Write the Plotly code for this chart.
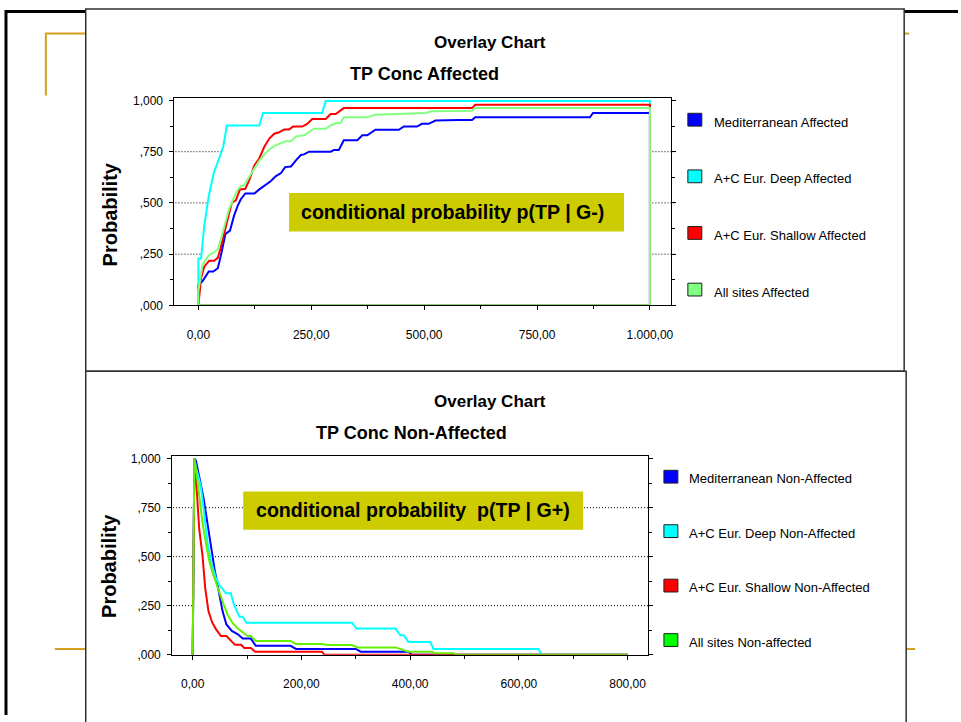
import plotly.graph_objects as go

# ---------------- data ----------------
names_top = ["Mediterranean Affected", "A+C Eur. Deep Affected",
             "A+C Eur. Shallow Affected", "All sites Affected"]
names_bot = ["Mediterranean Non-Affected", "A+C Eur. Deep Non-Affected",
             "A+C Eur. Shallow Non-Affected", "All sites Non-affected"]

# Chart 1 : TP Conc Affected (cumulative probability)
med_aff_x = [0, 0, 9, 23, 33, 43, 50, 60, 70, 79, 87, 94, 104, 124, 135, 149, 160, 171, 183, 192,
             205, 217, 227, 234, 245, 293, 300, 311, 322, 352, 363, 374, 392, 444, 455, 484, 495, 510, 525, 576,
             606, 613, 867, 874, 1000]
med_aff_y = [0, 0.101, 0.117, 0.165, 0.165, 0.181, 0.245, 0.349, 0.365, 0.438, 0.486, 0.518, 0.546, 0.546, 0.566, 0.590, 0.606, 0.630, 0.646, 0.675,
             0.678, 0.710, 0.734, 0.737, 0.750, 0.750, 0.758, 0.758, 0.806, 0.806, 0.830, 0.830, 0.857, 0.857, 0.873, 0.873, 0.886, 0.886, 0.902, 0.905,
             0.905, 0.918, 0.918, 0.939, 0.939]
deep_aff_x = [0, 0, 6, 13, 23, 34, 46, 55, 63, 135, 143, 274, 282, 1000]
deep_aff_y = [0, 0.229, 0.229, 0.389, 0.534, 0.646, 0.718, 0.774, 0.878, 0.878, 0.939, 0.939, 0.997, 0.997]
shal_aff_x = [0, 6, 13, 24, 35, 43, 49, 57, 65, 74, 83, 92, 104, 113, 124, 135, 146, 157, 168, 179,
              190, 201, 210, 230, 241, 252, 282, 293, 304, 322, 606, 613, 1000]
shal_aff_y = [0, 0.133, 0.189, 0.218, 0.218, 0.232, 0.277, 0.357, 0.421, 0.501, 0.513, 0.566, 0.569, 0.614, 0.683, 0.718, 0.774, 0.814, 0.838, 0.845,
              0.859, 0.859, 0.873, 0.873, 0.886, 0.910, 0.910, 0.934, 0.934, 0.963, 0.963, 0.979, 0.979]
all_aff_x = [0, 0, 9, 23, 33, 43, 50, 60, 68, 74, 85, 94, 102, 111, 124, 135, 148, 160, 171, 183,
             194, 205, 217, 234, 245, 256, 282, 293, 304, 315, 322, 374, 392, 429, 473, 503, 517, 606, 613, 1000]
all_aff_y = [0, 0.07, 0.197, 0.245, 0.256, 0.274, 0.325, 0.413, 0.470, 0.501, 0.558, 0.582, 0.587, 0.622, 0.670, 0.707, 0.742, 0.766, 0.782, 0.790,
             0.801, 0.801, 0.825, 0.830, 0.846, 0.862, 0.862, 0.878, 0.889, 0.891, 0.918, 0.918, 0.931, 0.934, 0.939, 0.939, 0.947, 0.950, 0.963, 0.963]

# Chart 2 : TP Conc Non-Affected (reverse cumulative probability)
med_non_x = [0, 3, 6, 12, 20, 26, 32, 40, 48, 55, 62, 72, 83, 92, 107, 116, 180, 190, 300, 309, 397, 403, 800]
med_non_y = [0, 1.0, 0.99, 0.908, 0.799, 0.690, 0.573, 0.439, 0.322, 0.221, 0.154, 0.121, 0.104, 0.082, 0.082,
             0.045, 0.045, 0.029, 0.029, 0.015, 0.015, 0, 0]
deep_non_x = [0, 3, 6, 15, 21, 28, 34, 42, 49, 61, 70, 76, 86, 92, 99, 293, 301, 373, 382, 388,
              397, 437, 443, 636, 642, 800]
deep_non_y = [0, 1.0, 0.958, 0.858, 0.724, 0.556, 0.472, 0.397, 0.355, 0.313, 0.313, 0.255, 0.193, 0.193, 0.163, 0.163, 0.133, 0.133, 0.099, 0.099,
              0.065, 0.065, 0.029, 0.029, 0, 0]
shal_non_x = [0, 3, 7, 12, 18, 23, 29, 36, 43, 52, 62, 70, 78, 89, 95, 107, 115, 238, 242, 800]
shal_non_y = [0, 1.0, 0.858, 0.640, 0.506, 0.339, 0.221, 0.163, 0.129, 0.095, 0.095, 0.070, 0.050, 0.050, 0.034, 0.034, 0.015, 0.015, 0, 0]
all_non_x = [0, 3, 7, 12, 18, 25, 31, 38, 46, 55, 64, 73, 83, 92, 101, 107, 116, 180, 190, 238,
             248, 293, 303, 373, 385, 397, 440, 446, 480, 485, 800]
all_non_y = [0, 1.0, 0.925, 0.808, 0.673, 0.556, 0.472, 0.406, 0.339, 0.271, 0.205, 0.163, 0.133, 0.113, 0.095, 0.095, 0.070, 0.070, 0.054, 0.054,
             0.049, 0.049, 0.037, 0.037, 0.025, 0.015, 0.015, 0.007, 0.007, 0, 0]

x_ticks_top = [0, 250, 500, 750, 1000]
x_labels_top = ["0,00", "250,00", "500,00", "750,00", "1.000,00"]
x_ticks_bot = [0, 200, 400, 600, 800]
x_labels_bot = ["0,00", "200,00", "400,00", "600,00", "800,00"]
y_ticks = [0, 0.25, 0.5, 0.75, 1.0]
y_labels = [",000", ",250", ",500", ",750", "1,000"]

# ---------------- style ----------------
W, H = 961, 722
FONT = "Liberation Sans, Arial, sans-serif"
line_cols_top = ["#0000ff", "#00ffff", "#ff0000", "#80ff80"]
sw_cols_top = ["#0000ff", "#00ffff", "#ff0000", "#80ff80"]
line_cols_bot = ["#0000ff", "#00ffff", "#ff0000", "#66ee00"]
sw_cols_bot = ["#0000ff", "#00ffff", "#ff0000", "#00ff00"]
GOLD = "#d4a020"
BOX = "#cccc00"


def px(x):
    return x / W


def py(y):
    return 1 - y / H


fig = go.Figure()

top_series = [(med_aff_x, med_aff_y), (deep_aff_x, deep_aff_y), (shal_aff_x, shal_aff_y), (all_aff_x, all_aff_y)]
bot_series = [(med_non_x, med_non_y), (deep_non_x, deep_non_y), (shal_non_x, shal_non_y), (all_non_x, all_non_y)]

# white area fills (hide gridlines under the curves)
for (xs, ys) in top_series:
    fig.add_trace(go.Scatter(x=xs, y=ys, mode="lines", fill="tozeroy", fillcolor="white",
                             line=dict(width=0, color="rgba(0,0,0,0)"), hoverinfo="skip",
                             xaxis="x", yaxis="y", showlegend=False))
for (xs, ys) in bot_series:
    fig.add_trace(go.Scatter(x=xs, y=ys, mode="lines", fill="tozeroy", fillcolor="white",
                             line=dict(width=0, color="rgba(0,0,0,0)"), hoverinfo="skip",
                             xaxis="x2", yaxis="y2", showlegend=False))

# curves (closed back along the base line, as in the original)
for (xs, ys), name, c in zip(top_series, names_top, line_cols_top):
    cx = list(xs) + [xs[-1], xs[0]]
    cy = list(ys) + [0, 0]
    fig.add_trace(go.Scatter(x=cx, y=cy, mode="lines", name=name,
                             line=dict(color=c, width=2), xaxis="x", yaxis="y", showlegend=False))
for (xs, ys), name, c in zip(bot_series, names_bot, line_cols_bot):
    fig.add_trace(go.Scatter(x=xs, y=ys, mode="lines", name=name,
                             line=dict(color=c, width=2), xaxis="x2", yaxis="y2", showlegend=False))

tickfont = dict(family=FONT, size=12, color="black")


def xaxis_cfg(dom, rng, tv, tt, minor, anchor):
    return dict(domain=dom, range=rng, anchor=anchor, tickmode="array", tickvals=tv, ticktext=tt,
                ticks="outside", ticklen=4, tickcolor="black", tickwidth=1,
                minor=dict(tickvals=minor, ticks="outside", ticklen=3, tickcolor="black"),
                showline=True, linecolor="black", linewidth=1, mirror=True,
                showgrid=False, zeroline=False, tickfont=tickfont, ticklabelstandoff=14,
                fixedrange=True)


def yaxis_cfg(dom, rng, anchor):
    return dict(domain=dom, range=rng, anchor=anchor, tickmode="array", tickvals=y_ticks, ticktext=y_labels,
                ticks="outside", ticklen=4, tickcolor="black", tickwidth=1,
                minor=dict(tickvals=[0.125, 0.375, 0.625, 0.875], ticks="outside", ticklen=3, tickcolor="black"),
                showline=True, linecolor="black", linewidth=1, mirror="ticks",
                showgrid=False, zeroline=False, tickfont=tickfont, ticklabelstandoff=4, fixedrange=True)


fig.update_layout(
    width=W, height=H, margin=dict(l=0, r=0, t=0, b=0),
    paper_bgcolor="white", plot_bgcolor="rgba(0,0,0,0)", showlegend=False,
    xaxis=xaxis_cfg([px(175), px(673)], [-53, 1046.4], x_ticks_top, x_labels_top, [125, 375, 625, 875], "y"),
    yaxis=yaxis_cfg([py(306), py(95)], [0, 1.0144], "x"),
    xaxis2=xaxis_cfg([px(172.7), px(650)], [-37.8, 837.5], x_ticks_bot, x_labels_bot, [100, 300, 500, 700], "y2"),
    yaxis2=yaxis_cfg([py(660.7), py(459)], [0, 1.0136], "x2"),
)

shapes = []
# slide decoration
shapes.append(dict(type="path", xref="paper", yref="paper",
                   path=f"M {px(86)},{py(30)} L {px(46)},{py(30)} L {px(46)},{py(93)}",
                   line=dict(color=GOLD, width=2), layer="below"))
shapes.append(dict(type="line", xref="paper", yref="paper", x0=px(907), x1=px(912), y0=py(30), y1=py(30),
                   line=dict(color=GOLD, width=2), layer="below"))
shapes.append(dict(type="line", xref="paper", yref="paper", x0=px(55), x1=px(86), y0=py(655), y1=py(655),
                   line=dict(color=GOLD, width=2), layer="below"))
shapes.append(dict(type="line", xref="paper", yref="paper", x0=px(909), x1=px(918), y0=py(655), y1=py(655),
                   line=dict(color=GOLD, width=2), layer="below"))
shapes.append(dict(type="line", xref="paper", yref="paper", x0=px(5), x1=px(961), y0=py(7.5), y1=py(7.5),
                   line=dict(color="black", width=3), layer="below"))
shapes.append(dict(type="line", xref="paper", yref="paper", x0=px(6), x1=px(6), y0=py(6), y1=py(722),
                   line=dict(color="black", width=3), layer="below"))
# panels
shapes.append(dict(type="rect", xref="paper", yref="paper", x0=px(86), x1=px(907), y0=py(5), y1=py(373),
                   line=dict(color="#303030", width=1.5), fillcolor="white", layer="below"))
shapes.append(dict(type="rect", xref="paper", yref="paper", x0=px(86), x1=px(909), y0=py(373), y1=py(730),
                   line=dict(color="#303030", width=1.5), fillcolor="white", layer="below"))
# dotted grid lines (only at ,250 ,500 ,750)
for yv in y_ticks[1:4]:
    shapes.append(dict(type="line", xref="paper", yref="y", x0=px(176), x1=px(678), y0=yv, y1=yv,
                       line=dict(color="black", width=1, dash="1px,2px"), layer="between"))
    shapes.append(dict(type="line", xref="paper", yref="y2", x0=px(173.5), x1=px(655), y0=yv, y1=yv,
                       line=dict(color="black", width=1, dash="1px,2px"), layer="between"))
# annotation boxes
shapes.append(dict(type="rect", xref="paper", yref="paper", x0=px(290), x1=px(626), y0=py(192), y1=py(231),
                   fillcolor=BOX, line=dict(width=0), layer="above"))
shapes.append(dict(type="rect", xref="paper", yref="paper", x0=px(244), x1=px(585), y0=py(495), y1=py(534),
                   fillcolor=BOX, line=dict(width=0), layer="above"))
# legend swatches
for i, c in enumerate(sw_cols_top):
    y0 = 111 + i * 57.5
    shapes.append(dict(type="rect", xref="paper", yref="paper", x0=px(690), x1=px(704), y0=py(y0), y1=py(y0 + 13),
                       fillcolor=c, line=dict(color="#202020", width=1), layer="above"))
for i, c in enumerate(sw_cols_bot):
    y0 = 473.5 + i * 55.3
    shapes.append(dict(type="rect", xref="paper", yref="paper", x0=px(666), x1=px(680), y0=py(y0), y1=py(y0 + 13),
                       fillcolor=c, line=dict(color="#202020", width=1), layer="above"))
fig.update_layout(shapes=shapes)

ann = []


def txt(t, x, y, size, bold=False, xanchor="center", angle=0):
    s = f"<b>{t}</b>" if bold else t
    ann.append(dict(text=s, x=px(x), y=py(y), xref="paper", yref="paper", showarrow=False,
                    xanchor=xanchor, yanchor="middle", textangle=angle,
                    font=dict(family=FONT, size=size, color="black")))


txt("Overlay Chart", 492, 39, 17, True)
txt("TP Conc Affected", 426, 71, 18, True)
txt("Probability", 110, 214, 20, True, angle=-90)
txt("conditional probability p(TP | G-)", 300, 211, 19.6, True, xanchor="left")
for i, n in enumerate(names_top):
    txt(n, 714, 120 + i * 57.5, 13, xanchor="left")

txt("Overlay Chart", 492, 404, 17, True)
txt("TP Conc Non-Affected", 413, 436, 18, True)
txt("Probability", 110, 571, 20, True, angle=-90)
txt("conditional probability  p(TP | G+)", 255, 514, 19.6, True, xanchor="left")
for i, n in enumerate(names_bot):
    txt(n, 689, 482 + i * 55.3, 13, xanchor="left")

fig.update_layout(annotations=ann)
fig.write_html("out.html")
